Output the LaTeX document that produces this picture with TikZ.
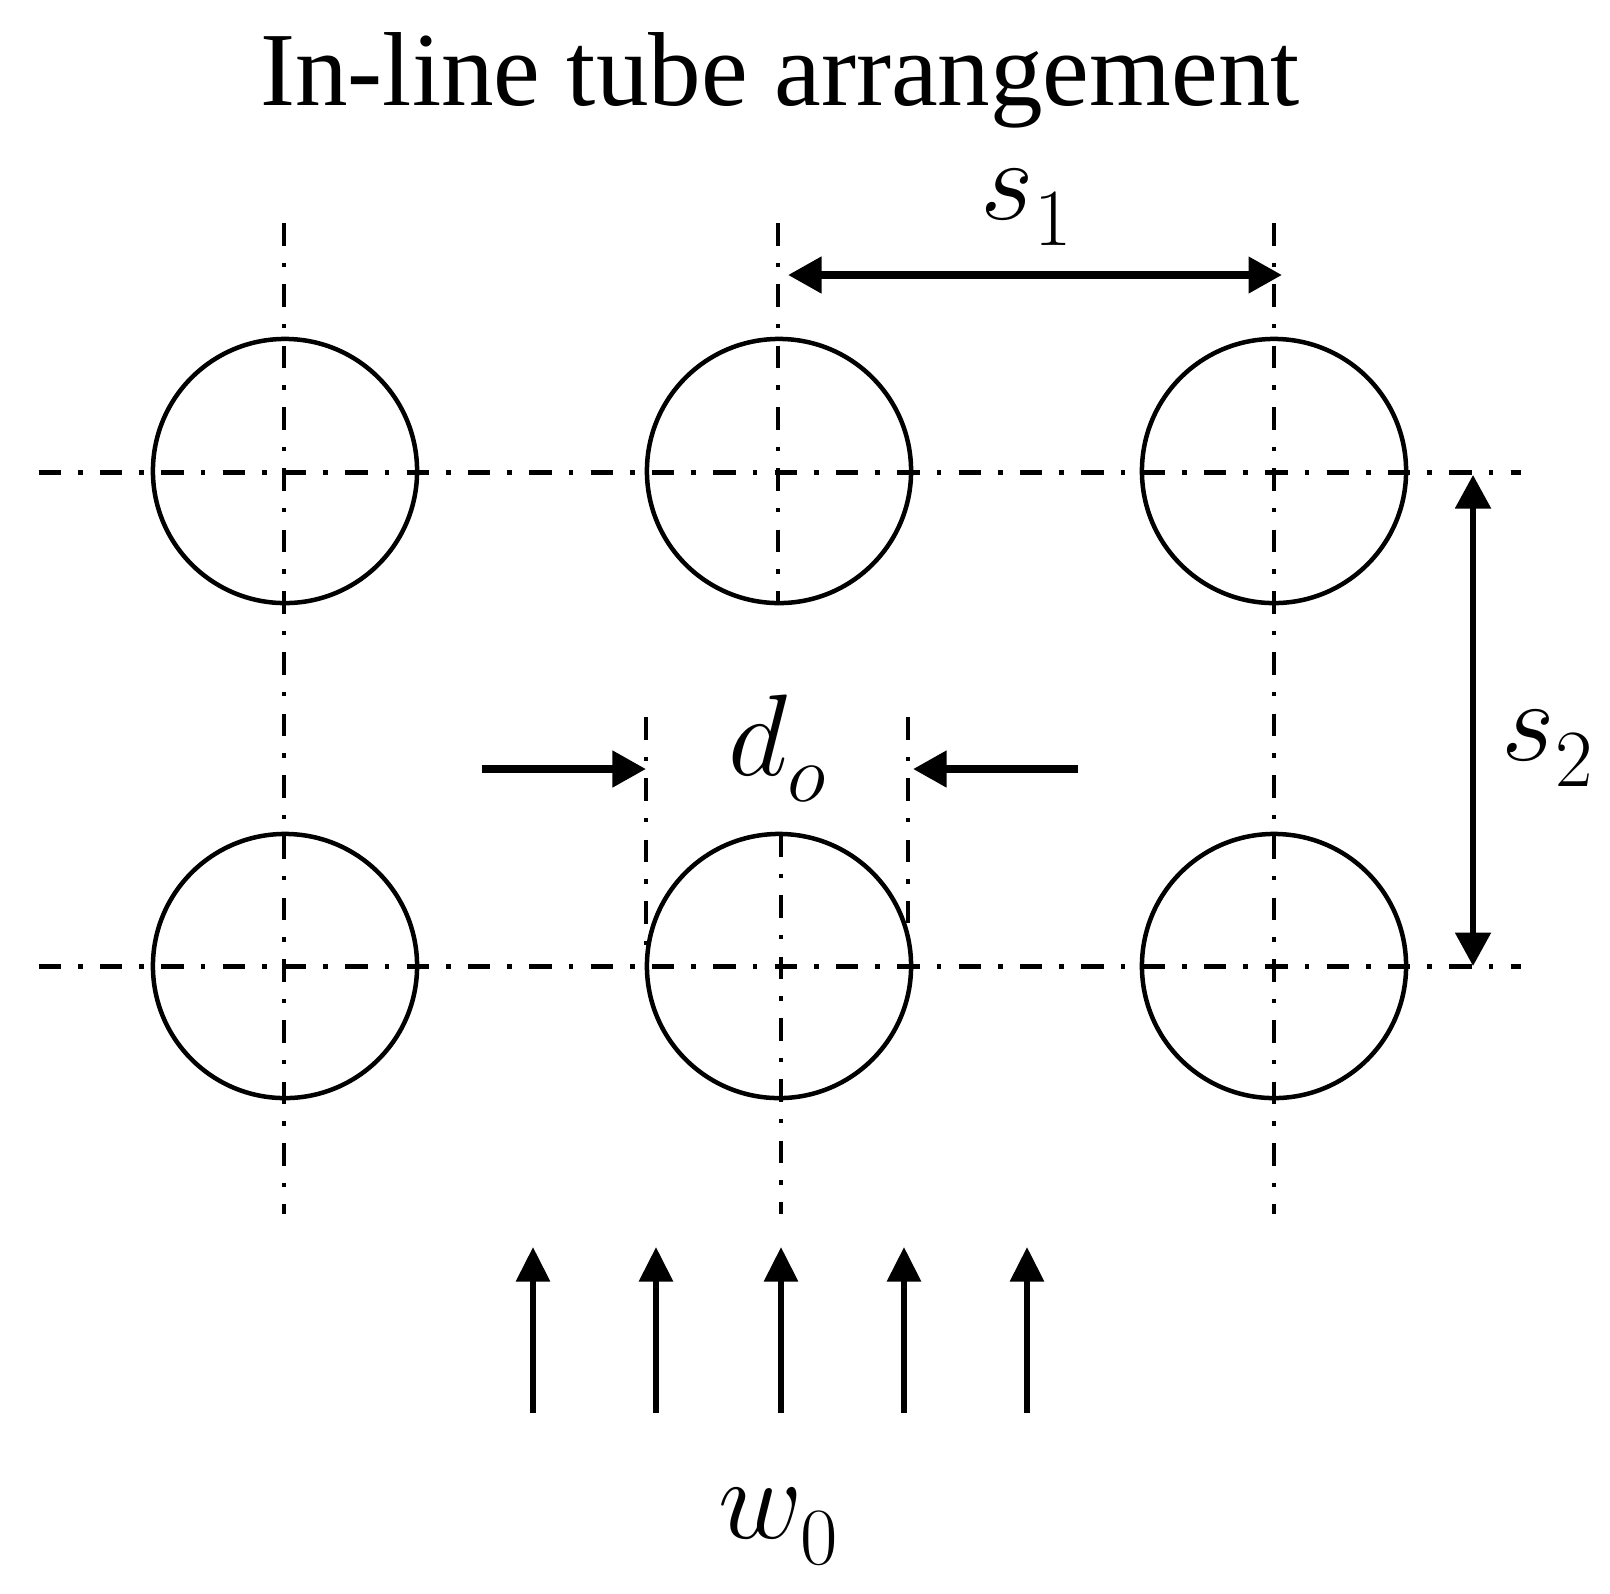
\documentclass[tikz,border=0pt]{standalone}
\usepackage{amsmath}
\usepackage{fix-cm}
\usepackage{fontspec}
\setmainfont{Liberation Serif}
\usetikzlibrary{arrows.meta}
\newcommand{\lowsub}[1]{_{\raisebox{-0.09cm}{$\scriptstyle #1$}}}
\tikzset{
	centerline/.style={line width=0.042cm, dash pattern=on 0.225cm off 0.17cm on 0.045cm off 0.173cm},
	tube/.style={draw, circle, line width=0.045cm, minimum size=2.64cm, inner sep=0pt, outer sep=0pt},
	dimarrow/.style={line width=0.075cm, -{Triangle[length=0.335cm, width=0.35cm]}},
	bothways/.style={{Triangle[length=0.335cm, width=0.35cm]}-{Triangle[length=0.335cm, width=0.35cm]}},
	flowarrow/.style={line width=0.06cm, -{Triangle[length=0.345cm, width=0.33cm]}},
	symbol/.style={anchor=base, font=\fontsize{33}{38}\selectfont, inner sep=0pt},
}

\begin{document}
\begin{tikzpicture}[x=0.01cm, y=-0.01cm]
	\useasboundingbox (0,0) rectangle (1610,1593);

	\node[anchor=base, inner sep=0pt, font=\fontsize{29.9}{36}\selectfont] (title) at (780,105) {In-line tube arrangement};

	% centre lines
	\draw[centerline, line width=0.05cm] (38.5,472) -- (1521,472);
	\draw[centerline, line width=0.05cm] (38.5,966) -- (1521,966);
	\draw[centerline] (284,223) -- (284,1214);
	\draw[centerline] (778,223) -- (778,603);
	\draw[centerline] (781,834) -- (781,1214);
	\draw[centerline] (1274,223) -- (1274,1214);
	\draw[centerline] (646,717) -- (646,945);
	\draw[centerline] (908,717) -- (908,923);

	\foreach \name/\cx/\cy in {a/285/471, b/779/471, c/1274/471, d/285/966, e/779/966, f/1274/966}
		\node[tube] (tube\name) at (\cx,\cy) {};

	\coordinate (sa) at (788,275);
	\coordinate (sb) at (1282,275);
	\draw[dimarrow, bothways] (sa) -- (sb);
	\node[symbol] (sone) at (1027,219) {$s\lowsub{1}$};

	\coordinate (ta) at (1473,475);
	\coordinate (tb) at (1473,966);
	\draw[dimarrow, bothways, line width=0.055cm] (ta) -- (tb);
	\node[symbol] (stwo) at (1548,760) {$s\lowsub{2}$};

	\coordinate (da) at (482,769);
	\coordinate (db) at (646,769);
	\coordinate (dc) at (1078,769);
	\coordinate (dd) at (913,769);
	\draw[dimarrow] (da) -- (db);
	\draw[dimarrow] (dc) -- (dd);
	\node[symbol] (dlabel) at (778,775) {$d\lowsub{o}$};

	\foreach \i/\fx in {1/533, 2/656, 3/781, 4/904, 5/1027} {
		\coordinate (fa\i) at (\fx,1413);
		\coordinate (fb\i) at (\fx,1247);
		\draw[flowarrow] (fa\i) -- (fb\i);
	}
	\node[symbol] (wlabel) at (779,1538) {$w\lowsub{0}$};
\end{tikzpicture}
\end{document}
